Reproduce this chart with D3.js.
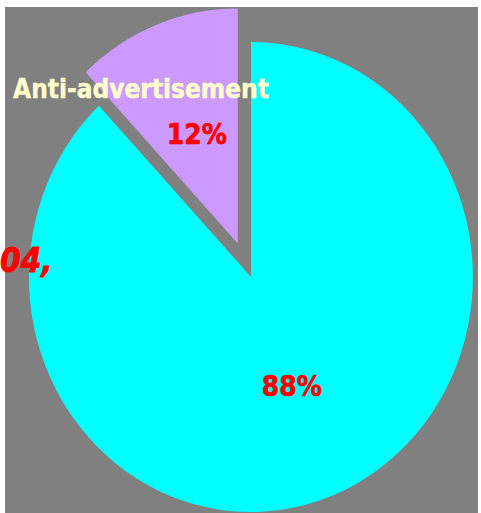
<!DOCTYPE html>
<html>
<head>
<meta charset="utf-8">
<script src="https://cdn.jsdelivr.net/npm/d3@7"></script>
<style>
html,body{margin:0;padding:0;background:#fff;overflow:hidden;}
svg{display:block;}
</style>
</head>
<body>
<svg id="chart" width="481" height="513"></svg>
<script>
const categories = ["Other", "Anti-advertisement"];
const values = [88, 12];
const percentLabels = ["88%", "12%"];
const colors = ["#00FFFF", "#CC99FF"];
const titleText = "04,";

const W = 481, H = 513;
const svg = d3.select("#chart");

// plot area background
svg.append("rect").attr("x", 5).attr("y", 7).attr("width", 473).attr("height", H - 7).attr("fill", "#808080");

const cx = 251, cy = 277, rx = 222, ry = 235;
const explode = 36;

const pie = d3.pie().sort(null).value(d => d)(values);
const arc = d3.arc().innerRadius(0).outerRadius(1);

const g = svg.append("g").attr("transform", `translate(${cx},${cy})`);

pie.forEach((p, i) => {
  const mid = (p.startAngle + p.endAngle) / 2;
  const off = i === 1 ? explode : 0;
  const ox = Math.sin(mid) * off, oy = -Math.cos(mid) * off;
  const sg = g.append("g").attr("transform", `translate(${ox},${oy})`);
  sg.append("path")
    .attr("d", arc(p))
    .attr("transform", `scale(${rx},${ry})`)
    .attr("fill", colors[i]);
  const lr = 0.5;
  sg.append("text")
    .attr("x", Math.sin(mid) * rx * lr)
    .attr("y", -Math.cos(mid) * ry * lr)
    .attr("dy", "0.36em")
    .attr("text-anchor", "middle")
    .attr("font-family", "DejaVu Sans Condensed, DejaVu Sans, sans-serif")
    .attr("font-weight", "bold")
    .attr("font-size", 28)
    .attr("fill", "#FF0000")
    .attr("stroke", "#FF0000")
    .attr("stroke-width", 0.6)
    .text(percentLabels[i]);
});

// category label for the small slice
svg.append("text")
  .attr("x", 141).attr("y", 98)
  .attr("text-anchor", "middle")
  .attr("font-family", "DejaVu Sans Condensed, DejaVu Sans, sans-serif")
  .attr("font-weight", "bold")
  .attr("font-size", 26)
  .attr("fill", "#FFFFCC")
  .attr("stroke", "#FFFFCC")
  .attr("stroke-width", 0.4)
  .text(categories[1]);

// title fragment at left
svg.append("text")
  .attr("x", 0).attr("y", 272)
  .attr("text-anchor", "start")
  .attr("font-family", "DejaVu Sans Condensed, DejaVu Sans, sans-serif")
  .attr("font-weight", "bold")
  .attr("font-style", "italic")
  .attr("font-size", 33)
  .attr("fill", "#FF0000")
  .attr("stroke", "#FF0000")
  .attr("stroke-width", 0.8)
  .text(titleText);
</script>
</body>
</html>
